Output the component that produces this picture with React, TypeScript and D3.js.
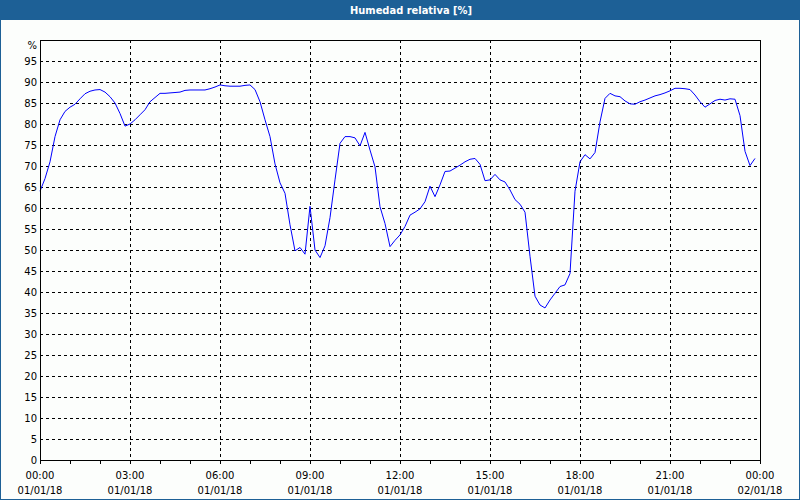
import React, { useEffect, useRef } from "react";
import * as d3 from "d3";

const TITLE = "Humedad relativa [%]";
const START = new Date(2018, 0, 1, 0, 0);
const END = new Date(2018, 0, 2, 0, 0);
const STEP_MINUTES = 10;
// Relative humidity (%) every 10 minutes from 00:00 to 23:50
const humidity: number[] = [
  64, 67, 71, 77, 81, 83, 84, 84.7, 86, 87.2,
  87.8, 88.1, 88.2, 87.6, 86.5, 85, 82.5, 79.5, 80, 81,
  82.2, 83.4, 85.3, 86.3, 87.3, 87.3, 87.4, 87.5, 87.6, 88,
  88.1, 88.1, 88.1, 88.1, 88.4, 88.8, 89.3, 89.1, 89, 89,
  89, 89.2, 89.3, 88.2, 85.3, 81, 77, 70.5, 66, 63.5,
  56, 49.8, 50.6, 49, 60.4, 50, 48.2, 51, 57.7, 66.7,
  75.4, 77, 77, 76.7, 74.8, 78, 73.8, 69.8, 60.3, 56.3,
  50.8, 52.3, 53.6, 55.6, 58.3, 59, 59.8, 61.5, 65.2, 62.7,
  65.5, 68.7, 68.8, 69.5, 70.2, 71, 71.6, 71.8, 70.4, 66.5,
  66.7, 68, 66.7, 66.2, 64.3, 62, 60.9, 59, 48.5, 39,
  36.9, 36.2, 38.1, 39.7, 41.3, 41.7, 44.4, 64, 71, 72.7,
  71.7, 73.2, 80.5, 86.1, 87.3, 86.7, 86.5, 85.5, 84.8, 84.7,
  85.3, 85.7, 86.2, 86.7, 87, 87.4, 87.9, 88.5, 88.5, 88.4,
  88.2, 86.9, 85.3, 84, 84.8, 85.6, 85.9, 85.7, 86, 85.9,
  82, 73.5, 70.1, 71.8,
];
const yTicks = [0, 5, 10, 15, 20, 25, 30, 35, 40, 45, 50, 55, 60, 65, 70, 75, 80, 85, 90, 95];
const yUnitLabel = "%";

const W = 800;
const H = 500;
const M = { left: 40, right: 760, top: 40, bottom: 460 };
const TITLE_BLUE = "#1d6096";
const FONT = "'DejaVu Sans', Verdana, sans-serif";

export default function App() {
  const ref = useRef<SVGSVGElement>(null);

  useEffect(() => {
    const svg = d3.select(ref.current);
    svg.selectAll("*").remove();

    const x = d3.scaleTime().domain([START, END]).range([M.left, M.right]);
    const y = d3.scaleLinear().domain([0, 100]).range([M.bottom, M.top]);

    const data = humidity.map((v, i) => ({
      t: new Date(START.getTime() + i * STEP_MINUTES * 60000),
      v,
    }));

    // background
    svg.append("rect").attr("x", 0).attr("y", 0).attr("width", W).attr("height", H).attr("fill", "#fcfefc");
    // title bar
    svg.append("rect").attr("x", 0).attr("y", 0).attr("width", W).attr("height", 20).attr("fill", TITLE_BLUE);
    svg.append("text")
      .attr("x", 411).attr("y", 10).attr("dy", "0.35em")
      .attr("text-anchor", "middle")
      .attr("fill", "#ffffff")
      .attr("font-family", "'DejaVu Sans Condensed', 'DejaVu Sans', sans-serif")
      .attr("font-weight", "bold")
      .attr("font-size", 11)
      .text(TITLE);
    // outer border
    svg.append("rect").attr("x", 0.5).attr("y", 0.5).attr("width", W - 1).attr("height", H - 1)
      .attr("fill", "none").attr("stroke", TITLE_BLUE);

    // horizontal gridlines
    const grid = svg.append("g").attr("stroke", "#000").attr("stroke-dasharray", "3,3").attr("shape-rendering", "crispEdges");
    yTicks.filter((t) => t > 0).forEach((t) => {
      grid.append("line")
        .attr("x1", M.left).attr("x2", M.right)
        .attr("y1", Math.round(y(t)) + 0.5).attr("y2", Math.round(y(t)) + 0.5);
    });
    // vertical gridlines every 3h
    const majors = d3.timeHour.every(3)!.range(START, new Date(END.getTime() + 1));
    majors.filter((d) => d > START && d < END).forEach((d) => {
      grid.append("line")
        .attr("y1", M.top).attr("y2", M.bottom)
        .attr("x1", Math.round(x(d)) + 0.5).attr("x2", Math.round(x(d)) + 0.5);
    });

    // hourly ticks
    const hours = d3.timeHour.range(START, new Date(END.getTime() + 1));
    const tg = svg.append("g").attr("stroke", "#000").attr("shape-rendering", "crispEdges");
    hours.forEach((d) => {
      tg.append("line")
        .attr("x1", Math.round(x(d)) + 0.5).attr("x2", Math.round(x(d)) + 0.5)
        .attr("y1", M.bottom).attr("y2", M.bottom + 4);
    });

    // line
    const line = d3.line<{ t: Date; v: number }>().x((d) => x(d.t)).y((d) => y(d.v));
    svg.append("path").datum(data)
      .attr("d", line)
      .attr("fill", "none")
      .attr("stroke", "#0000ff")
      .attr("stroke-width", 1);

    // plot frame
    svg.append("rect")
      .attr("x", M.left + 0.5).attr("y", M.top + 0.5)
      .attr("width", M.right - M.left).attr("height", M.bottom - M.top)
      .attr("fill", "none").attr("stroke", "#000").attr("shape-rendering", "crispEdges");

    // y labels
    const yl = svg.append("g").attr("font-family", FONT).attr("font-size", 10).attr("fill", "#000").attr("text-anchor", "end");
    yTicks.forEach((t) => {
      yl.append("text").attr("x", 37).attr("y", y(t)).attr("dy", "0.35em").text(String(t));
    });
    yl.append("text").attr("x", 37).attr("y", 45).attr("dy", "0.35em").text(yUnitLabel);

    // x labels
    const fmtT = d3.timeFormat("%H:%M");
    const fmtD = d3.timeFormat("%d/%m/%y");
    const xl = svg.append("g").attr("font-family", FONT).attr("font-size", 10).attr("fill", "#000").attr("text-anchor", "middle");
    majors.forEach((d) => {
      xl.append("text").attr("x", x(d)).attr("y", 475).attr("dy", "0.35em").text(fmtT(d));
      xl.append("text").attr("x", x(d)).attr("y", 490).attr("dy", "0.35em").text(fmtD(d));
    });
  }, []);

  return (
    <svg
      ref={ref}
      width={W}
      height={H}
      style={{ position: "absolute", left: 0, top: 0, display: "block" }}
    />
  );
}
